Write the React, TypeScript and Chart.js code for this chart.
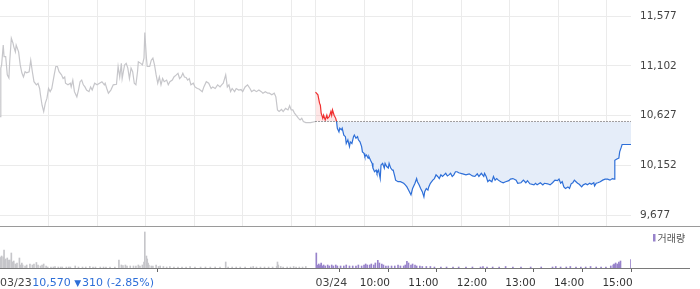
import React, { useEffect, useRef } from "react";
import { Chart, registerables } from "chart.js";

Chart.register(...registerables);

const FONT = "'DejaVu Sans', sans-serif";

// 03/23 intraday (time, price)
const day1Times = [
  "09:00","09:01","09:02","09:04","09:05","09:07","09:09","09:11","09:12","09:14","09:16","09:17","09:19","09:20","09:21","09:23","09:25","09:27","09:29","09:31","09:33","09:36","09:38","09:40","09:42","09:45","09:47","09:49","09:50","09:52","09:54","09:56","09:58",
  "10:00","10:02","10:04","10:07","10:09","10:11","10:13","10:16","10:18","10:20","10:21","10:24","10:27","10:28","10:30","10:32","10:35","10:37","10:39","10:41","10:43","10:45","10:47","10:50","10:52","10:54","10:57",
  "11:00","11:03","11:06","11:09","11:10","11:12","11:14","11:17","11:20","11:24","11:26","11:28","11:30","11:31","11:34","11:36","11:38","11:40","11:42","11:44","11:46","11:48","11:50","11:51","11:54","11:56","11:58","11:59",
  "12:01","12:02","12:05","12:07","12:09","12:11","12:13","12:15","12:17","12:19","12:21","12:23","12:26","12:28","12:30","12:33","12:35","12:38","12:40","12:42","12:44","12:46","12:48","12:50","12:52","12:54","12:56","12:59",
  "13:01","13:04","13:06","13:10","13:12","13:15","13:18","13:21","13:23","13:26","13:29","13:32","13:34","13:36","13:39","13:41","13:43","13:45","13:47","13:50","13:52","13:55","13:58",
  "14:00","14:03","14:06","14:09","14:11","14:14","14:17","14:20","14:23","14:25","14:28","14:31","14:33","14:36","14:39","14:41","14:43","14:45","14:48","14:50","14:53","14:56","14:58",
  "15:00","15:02","15:04","15:06","15:09","15:11","15:13","15:15","15:18","15:24","15:30"
];
const day1Prices = [
  10615,11080,11110,11300,11190,11190,11015,10985,11140,11365,11320,11285,11235,11300,11300,11235,11110,11035,10995,11045,11035,11045,11155,11045,10950,10920,10935,10885,10825,10725,10665,10745,10790,
  10885,10855,10885,11015,11095,11095,11045,11015,10980,10995,10935,10920,10935,10900,10965,10855,10805,10870,10950,10965,10920,10900,10870,10855,10900,10870,10935,
  10920,10935,10950,10920,10935,10885,10840,10870,10920,10925,11095,10995,11125,10980,11110,11125,11080,10980,11080,11045,10935,10920,11045,11140,11125,11110,11175,11420,
  11175,11095,11095,11155,11175,11110,11015,10935,10995,10920,10980,10950,10965,10920,10950,10965,10995,11015,11030,10980,10995,11030,10995,10990,10965,10980,10920,10935,
  10900,10885,10880,10855,10900,10950,10935,10885,10900,10885,10920,10900,10920,10935,11015,10900,10920,10855,10885,10855,10885,10870,10875,
  10855,10900,10920,10885,10855,10870,10855,10870,10855,10840,10855,10840,10840,10825,10840,10805,10680,10665,10685,10665,10695,10680,10720,
  10680,10680,10650,10630,10600,10585,10600,10570,10560,10560,10570
];

// 03/24 intraday (time, price)
const day2Times = [
  "09:00","09:03","09:05","09:06","09:07","09:09","09:10","09:12","09:14","09:15","09:17","09:19","09:20","09:21","09:23","09:25","09:26","09:27","09:29","09:30","09:32","09:33","09:35","09:37","09:38","09:40","09:42","09:43","09:45","09:47","09:48","09:50","09:52","09:53","09:55","09:57","09:58",
  "10:00","10:01","10:03","10:05","10:06","10:08","10:10","10:11","10:13","10:15","10:16","10:18","10:20","10:21","10:23","10:25","10:26","10:28","10:30","10:31","10:33","10:35","10:36","10:38","10:39","10:42","10:45","10:49","10:51","10:53","10:55","10:58",
  "11:00","11:03","11:05","11:06","11:08","11:10","11:12","11:14","11:15","11:17","11:19","11:20","11:22","11:25","11:27","11:29","11:31","11:33","11:35","11:37","11:39","11:41","11:43","11:45","11:47","11:49","11:51","11:53","11:55","11:57",
  "12:02","12:06","12:10","12:14","12:17","12:20","12:22","12:25","12:28","12:29","12:31","12:33","12:35","12:38","12:40","12:42","12:44","12:46","12:49","12:52","12:55","12:59",
  "13:01","13:04","13:08","13:10","13:14","13:17","13:20","13:22","13:25","13:30","13:32","13:34","13:38","13:41","13:43","13:47","13:50","13:53","13:56","13:59",
  "14:01","14:03","14:05","14:07","14:09","14:12","14:14","14:16","14:18","14:20","14:22","14:24","14:26","14:29","14:31","14:34","14:36","14:39","14:41","14:44","14:45","14:47","14:49","14:52","14:55","14:58",
  "15:01","15:04","15:07","15:09","15:10","15:12","15:15","15:16","15:18","15:19","15:24","15:30"
];
const day2Prices = [
  10850,10825,10745,10725,10650,10600,10630,10585,10630,10600,10615,10665,10630,10680,10630,10600,10570,10505,10470,10505,10490,10505,10440,10425,10360,10395,10330,10375,10360,10425,10440,10410,10425,10395,10375,10330,10280,
  10265,10235,10250,10220,10235,10200,10170,10125,10090,10105,10075,10105,10025,10155,10170,10125,10170,10140,10125,10170,10125,10105,10105,10045,10010,9995,9995,9980,9965,9945,9915,9870,
  9930,9980,10025,9995,9965,9930,9900,9850,9900,9930,9915,9945,9980,10010,10025,10060,10045,10025,10060,10045,10060,10075,10050,10060,10075,10045,10060,10090,10090,10080,
  10070,10060,10070,10050,10045,10070,10045,10075,10045,10075,10045,9995,10010,9995,10045,10010,10025,10010,9995,9985,9995,10005,
  10020,10025,10010,9980,9985,10010,9985,10005,9975,9965,9980,9965,9985,9965,9980,9975,9965,9985,10010,10005,
  10020,9980,9995,9945,9930,9945,9930,9975,9985,10010,9995,9980,9970,9945,9965,9975,9965,9980,9970,9985,9955,9980,9985,9995,10010,10020,
  10020,10010,10025,10020,10200,10210,10220,10280,10325,10350,10350,10350
];

// volume (thousand shares)
const vol1Times = [
  "09:00","09:01","09:02","09:04","09:05","09:06","09:07","09:09","09:10","09:11","09:12","09:14","09:15","09:16","09:17","09:19","09:20","09:21","09:24","09:25","09:27","09:28","09:31","09:33","09:37","09:40","09:42","09:45","09:47","09:50","09:52","09:54","09:57","09:59",
  "10:03","10:06","10:08","10:12","10:15","10:17","10:22","10:25","10:27","10:33","10:37","10:42","10:46","10:51","10:55","10:58",
  "11:04","11:08","11:11","11:16","11:22","11:27","11:30","11:32","11:35","11:37","11:41","11:45","11:48","11:51","11:53","11:56","11:58","11:59",
  "12:01","12:02","12:03","12:04","12:07","12:09","12:13","12:16","12:18","12:22","12:26","12:30","12:35","12:40","12:45","12:50","12:55",
  "13:01","13:08","13:14","13:20","13:26","13:32","13:39","13:42","13:47","13:52","13:57",
  "14:03","14:10","14:13","14:17","14:22","14:27","14:32","14:37","14:42","14:43","14:44","14:47","14:50","14:55","14:59",
  "15:03","15:06","15:10","15:14","15:18"
];
const vol1Values = [
  11,10,12,11,18,8,9,10,8,6,8,15,6,6,7,4,3,5,10,3,5,3,2,3,4,3,4,5.5,3,2,3,4,2,1,
  1,1,1.5,1,1,1,1,1,1,2,1,1,1,1.5,1,1,
  1,1,1,1,1,8,3,2.5,3,2,2,2,2,3,2,3,6,36,
  12,9,5,3,2,2,3,1.5,2,1.5,1,1.5,1,1,1,1,1.5,
  1,1,1,1,1,1,6,1,1,1,1,
  1,1,1.5,1,1,1,1,1,1.5,6,3,1.5,1,1,1,
  1.5,1,1,1,1.5
];
const vol2Times = [
  "09:01","09:02","09:04","09:05","09:06","09:07","09:09","09:10","09:12","09:15","09:17","09:20","09:22","09:25","09:27","09:31","09:35","09:38","09:42","09:46","09:50","09:53","09:57",
  "10:00","10:02","10:04","10:07","10:09","10:12","10:14","10:17","10:19","10:22","10:24","10:27","10:30","10:34","10:38","10:42","10:45","10:49","10:51","10:53","10:55","10:58",
  "11:00","11:03","11:05","11:09","11:12","11:17","11:22","11:27","11:35","11:42","11:50","11:57",
  "12:06","12:14","12:24","12:27","12:32","12:39","12:47","12:55",
  "13:04","13:14","13:26","13:39","13:53","13:57",
  "14:03","14:10","14:15","14:22","14:28","14:34","14:40","14:47","14:53","14:59",
  "15:05","15:08","15:09","15:10","15:11","15:13","15:14","15:15","15:16","15:17","15:30"
];
const vol2Values = [
  15,3,4,2,3,5,2,3,2,3,2,3,2,3,2,2,2,3,2,2,2,3,2,
  3,4,3,3,4,3,5,7.7,5,4,3,2,2,2,2,3,2,2,3,6.7,5,3,
  4,3,2,2,1.5,1.5,1.5,1,1,1,1,1,
  1,1,1,1.5,1,1,1,1.5,
  1,1,1,1,1,1.5,
  1,1,1.5,1,1,1,1.5,1,1,1,
  2,3,4,3,5,4,3,6,4,7,8.3
];

const prevClose = 10570;
const priceTicks = [9677, 10152, 10627, 11102, 11577];
const priceMin = 9572;
const priceMax = 11730;
const hourTicks = [450, 510, 570, 630, 690, 750];
const hourLabels = ["10:00", "11:00", "12:00", "13:00", "14:00", "15:00"];
const gridMinutes = [60, 120, 180, 240, 300, 360, 390, 450, 510, 570, 630, 690, 750];
const dayLabels = ["03/23", "03/24"];
const summaryPrice = "10,570";
const summaryChange = "310 (-2.85%)";
const volumeLegend = "거래량";

const RED = "#f03030";
const BLUE = "#2e6fd8";
const GRAY = "#c6c6ca";
const PURPLE = "#9883cb";
const GRID = "#ebebeb";

function toMinute(t: string, day: number) {
  const [h, m] = t.split(":").map(Number);
  return day * 390 + (h - 9) * 60 + m;
}

export default function App() {
  const priceRef = useRef<HTMLCanvasElement>(null);
  const volRef = useRef<HTMLCanvasElement>(null);

  useEffect(() => {
    document.body.style.margin = "0";
    const day1 = day1Times.map((t, i) => ({ x: toMinute(t, 0), y: day1Prices[i] }));
    const day2 = day2Times.map((t, i) => ({ x: toMinute(t, 1), y: day2Prices[i] }));
    const v1 = vol1Times.map((t, i) => ({ x: toMinute(t, 0), y: vol1Values[i] }));
    const v2 = vol2Times.map((t, i) => ({ x: toMinute(t, 1), y: vol2Values[i] }));

    const c1 = new Chart(priceRef.current as HTMLCanvasElement, {
      type: "line",
      data: {
        datasets: [
          {
            data: [{ x: 390, y: prevClose }, { x: 780, y: prevClose }],
            borderColor: "#444",
            borderWidth: 1,
            borderDash: [1, 2],
            pointRadius: 0,
            fill: false,
          },
          {
            data: day2,
            borderColor: BLUE,
            borderWidth: 1.2,
            pointRadius: 0,
            segment: {
              borderColor: (ctx: any) =>
                ctx.p0.parsed.y >= prevClose && ctx.p1.parsed.y >= prevClose ? RED : BLUE,
            },
            fill: { target: { value: prevClose }, above: "rgba(250,120,120,0.18)", below: "#e5edf9" },
          },
          {
            data: day1,
            borderColor: GRAY,
            borderWidth: 1.2,
            pointRadius: 0,
            fill: false,
          },
        ],
      },
      options: {
        animation: false,
        responsive: false,
        devicePixelRatio: 1,
        layout: { padding: 0 },
        plugins: { legend: { display: false }, tooltip: { enabled: false } },
        elements: { line: { tension: 0 } },
        scales: {
          x: {
            type: "linear",
            min: 0,
            max: 780,
            afterBuildTicks: (s: any) => {
              s.ticks = gridMinutes.map((v) => ({ value: v }));
            },
            ticks: { display: false },
            grid: { color: GRID, drawTicks: false },
            border: { display: false },
            afterFit: (s: any) => {
              s.height = 0;
              s.paddingLeft = 0;
              s.paddingRight = 0;
            },
          },
          y: {
            position: "right",
            min: priceMin,
            max: priceMax,
            afterBuildTicks: (s: any) => {
              s.ticks = priceTicks.map((v) => ({ value: v }));
            },
            ticks: {
              callback: (v: any) => Number(v).toLocaleString("en-US"),
              color: "#444",
              font: { family: FONT, size: 10.5 },
              padding: 9,
            },
            grid: { color: GRID, drawTicks: false },
            border: { display: false },
            afterFit: (s: any) => {
              s.width = 69;
              s.paddingTop = 0;
              s.paddingBottom = 0;
            },
          },
        },
      },
    } as any);

    const decor = {
      id: "volDecor",
      afterDraw(chart: any) {
        const { ctx, chartArea, scales } = chart;
        ctx.save();
        ctx.lineWidth = 1;
        ctx.strokeStyle = "#9a9a9a";
        ctx.beginPath();
        ctx.moveTo(0, 0.5);
        ctx.lineTo(700, 0.5);
        ctx.stroke();
        ctx.strokeStyle = "#7a7a7a";
        ctx.beginPath();
        ctx.moveTo(0, chartArea.bottom + 0.5);
        ctx.lineTo(690, chartArea.bottom + 0.5);
        ctx.stroke();

        const y = chartArea.bottom + 4 + 5 + 6.3;
        ctx.textBaseline = "middle";
        ctx.textAlign = "left";
        ctx.font = `11px ${FONT}`;
        let x = scales.x.getPixelForValue(0);
        ctx.fillStyle = "#444";
        ctx.fillText(dayLabels[0], x, y);
        x += ctx.measureText(dayLabels[0]).width + 0.5;
        ctx.fillStyle = BLUE;
        ctx.fillText(summaryPrice, x, y);
        x += ctx.measureText(summaryPrice).width + 3.5;
        ctx.font = `9px ${FONT}`;
        ctx.fillText("▼", x, y);
        x += ctx.measureText("▼").width + 1;
        ctx.font = `11px ${FONT}`;
        ctx.fillText(summaryChange, x, y);

        ctx.fillStyle = "#444";
        ctx.fillText(dayLabels[1], scales.x.getPixelForValue(390), y);

        ctx.fillStyle = PURPLE;
        ctx.fillRect(653, 8, 2.5, 7.5);
        ctx.fillStyle = "#555";
        ctx.font = `10px 'Noto Sans CJK KR', ${FONT}`;
        ctx.fillText(volumeLegend, 657.5, 12);
        ctx.restore();
      },
    };

    const c2 = new Chart(volRef.current as HTMLCanvasElement, {
      type: "bar",
      data: {
        datasets: [
          { data: v1, backgroundColor: GRAY, barThickness: 1, grouped: false },
          { data: v2, backgroundColor: PURPLE, barThickness: 1, grouped: false },
        ],
      },
      options: {
        animation: false,
        responsive: false,
        devicePixelRatio: 1,
        layout: { padding: 0 },
        plugins: { legend: { display: false }, tooltip: { enabled: false } },
        scales: {
          x: {
            type: "linear",
            min: 0,
            max: 780,
            offset: false,
            afterBuildTicks: (s: any) => {
              s.ticks = [0, 390, ...hourTicks].map((v) => ({ value: v }));
            },
            ticks: {
              autoSkip: false,
              maxRotation: 0,
              align: "start",
              labelOffset: -4.3,
              padding: 5,
              color: "#333",
              font: { family: FONT, size: 10.5 },
              callback: (v: any) => {
                const i = hourTicks.indexOf(Number(v));
                return i >= 0 ? hourLabels[i] : "";
              },
            },
            grid: {
              display: true,
              drawOnChartArea: false,
              drawTicks: true,
              tickLength: 4,
              tickColor: "#666",
              color: "#666",
            },
            border: { display: false },
            afterFit: (s: any) => {
              s.height = 21;
              s.paddingLeft = 0;
              s.paddingRight = 0;
            },
          },
          y: {
            position: "right",
            min: 0,
            max: 42,
            ticks: { display: false },
            grid: { display: false },
            border: { display: false },
            afterFit: (s: any) => {
              s.width = 69;
              s.paddingTop = 0;
              s.paddingBottom = 0;
            },
          },
        },
      },
      plugins: [decor],
    } as any);

    return () => {
      c1.destroy();
      c2.destroy();
    };
  }, []);

  return (
    <div style={{ width: 700, height: 289, background: "#fff" }}>
      <canvas ref={priceRef} width={700} height={226} style={{ display: "block", width: 700, height: 226 }} />
      <canvas ref={volRef} width={700} height={63} style={{ display: "block", width: 700, height: 63 }} />
    </div>
  );
}
